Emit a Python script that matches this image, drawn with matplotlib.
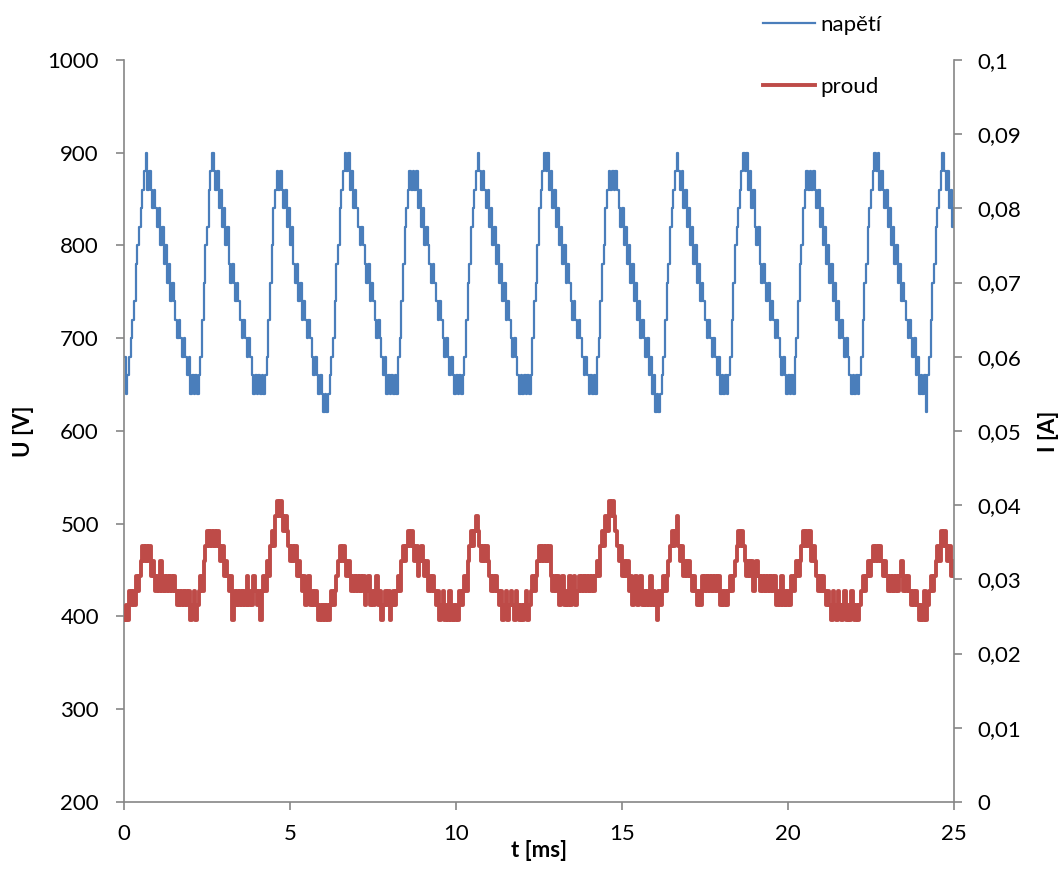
import numpy as np
import matplotlib
matplotlib.use('Agg')
import matplotlib.pyplot as plt
from matplotlib.ticker import FuncFormatter, MultipleLocator

plt.rcParams['font.family'] = ['Lato', 'DejaVu Sans']

# time axis in ms, sampled every 0.05 ms
t_ms = np.round(np.arange(0, 501) * 0.05, 2)

# measured voltage [V], one row per millisecond (20 samples), last value at 25 ms
u_volts = [
    680, 640, 660, 680, 700, 720, 740, 780, 800, 820, 840, 860, 880, 900, 860, 880, 860, 840, 860, 840,
    820, 840, 800, 820, 780, 800, 760, 780, 740, 760, 740, 720, 700, 720, 700, 680, 700, 680, 660, 680,
    640, 660, 640, 660, 640, 660, 680, 720, 760, 800, 820, 860, 880, 900, 880, 860, 880, 840, 860, 820,
    840, 800, 820, 780, 760, 780, 760, 740, 760, 740, 720, 700, 720, 700, 680, 700, 680, 660, 640, 660,
    640, 660, 640, 660, 640, 660, 680, 720, 760, 800, 840, 860, 880, 860, 880, 860, 840, 860, 820, 840,
    800, 820, 780, 760, 780, 740, 760, 720, 740, 720, 700, 720, 700, 680, 660, 680, 660, 640, 660, 640,
    620, 640, 620, 640, 660, 680, 700, 740, 780, 800, 840, 860, 880, 900, 880, 900, 860, 880, 840, 860,
    840, 820, 800, 820, 800, 780, 760, 780, 740, 760, 740, 720, 700, 720, 700, 680, 660, 680, 640, 660,
    640, 660, 640, 660, 640, 680, 700, 740, 780, 820, 840, 860, 880, 860, 880, 860, 880, 840, 860, 820,
    840, 800, 820, 800, 780, 760, 780, 760, 740, 720, 740, 720, 700, 680, 700, 680, 660, 680, 660, 640,
    660, 640, 660, 640, 660, 680, 720, 760, 780, 820, 840, 860, 880, 900, 880, 860, 880, 860, 840, 860,
    820, 840, 800, 820, 780, 800, 760, 780, 740, 760, 720, 740, 720, 700, 680, 700, 680, 660, 640, 660,
    640, 660, 640, 660, 640, 660, 700, 740, 760, 800, 840, 860, 880, 900, 880, 900, 860, 880, 840, 860,
    820, 840, 800, 820, 780, 800, 760, 780, 760, 740, 720, 740, 720, 700, 720, 700, 680, 660, 680, 660,
    640, 660, 640, 660, 640, 680, 700, 740, 780, 800, 840, 860, 880, 860, 880, 860, 880, 860, 840, 820,
    840, 800, 820, 780, 800, 760, 780, 740, 760, 720, 740, 700, 720, 700, 680, 700, 660, 680, 640, 660,
    620, 640, 620, 640, 660, 680, 720, 760, 780, 820, 840, 860, 880, 900, 880, 860, 880, 840, 860, 820,
    840, 800, 820, 780, 800, 760, 780, 740, 760, 740, 720, 700, 720, 700, 680, 700, 680, 660, 680, 640,
    660, 640, 660, 640, 660, 680, 720, 760, 800, 820, 840, 860, 880, 900, 880, 900, 860, 880, 840, 860,
    820, 800, 820, 780, 760, 780, 760, 740, 760, 720, 740, 720, 700, 720, 700, 680, 660, 680, 660, 640,
    660, 640, 660, 640, 680, 700, 740, 780, 800, 840, 860, 880, 860, 880, 860, 880, 860, 840, 860, 820,
    840, 800, 820, 780, 800, 760, 780, 740, 760, 720, 740, 700, 720, 700, 680, 700, 680, 660, 640, 660,
    640, 660, 640, 660, 680, 720, 760, 780, 820, 840, 860, 880, 900, 880, 900, 860, 880, 860, 840, 860,
    820, 840, 800, 820, 780, 800, 760, 780, 740, 760, 740, 720, 700, 720, 700, 680, 700, 660, 680, 640,
    660, 640, 660, 620, 660, 680, 720, 760, 780, 820, 840, 860, 880, 900, 880, 860, 880, 840, 860, 820,
    840,
]

# measured current [mA], same sampling
i_milliamps = [
    24.5, 26.5, 24.5, 28.5, 26.5, 28.5, 26.5, 30.5, 28.5, 30.5, 32.5, 34.5, 32.5, 34.5, 32.5, 34.5, 30.5, 32.5, 30.5, 28.5,
    30.5, 28.5, 32.5, 28.5, 30.5, 28.5, 30.5, 28.5, 30.5, 28.5, 30.5, 28.5, 26.5, 28.5, 26.5, 28.5, 26.5, 28.5, 26.5, 28.5,
    24.5, 26.5, 28.5, 24.5, 26.5, 28.5, 30.5, 28.5, 32.5, 34.5, 36.5, 34.5, 36.5, 34.5, 36.5, 34.5, 36.5, 34.5, 32.5, 34.5,
    30.5, 32.5, 30.5, 28.5, 30.5, 24.5, 28.5, 26.5, 28.5, 26.5, 28.5, 26.5, 28.5, 26.5, 30.5, 26.5, 28.5, 26.5, 30.5, 28.5,
    26.5, 28.5, 24.5, 28.5, 30.5, 28.5, 32.5, 30.5, 34.5, 36.5, 34.5, 38.5, 40.5, 38.5, 40.5, 38.5, 36.5, 38.5, 36.5, 34.5,
    32.5, 34.5, 32.5, 34.5, 30.5, 32.5, 30.5, 28.5, 30.5, 26.5, 28.5, 30.5, 26.5, 28.5, 26.5, 28.5, 26.5, 24.5, 26.5, 24.5,
    26.5, 24.5, 26.5, 24.5, 26.5, 28.5, 26.5, 28.5, 30.5, 32.5, 34.5, 32.5, 34.5, 32.5, 30.5, 32.5, 30.5, 28.5, 30.5, 28.5,
    30.5, 28.5, 30.5, 28.5, 30.5, 26.5, 28.5, 30.5, 26.5, 28.5, 26.5, 28.5, 30.5, 26.5, 28.5, 24.5, 26.5, 28.5, 26.5, 28.5,
    24.5, 26.5, 28.5, 26.5, 28.5, 30.5, 28.5, 32.5, 34.5, 32.5, 34.5, 36.5, 34.5, 36.5, 34.5, 32.5, 34.5, 30.5, 32.5, 34.5,
    32.5, 30.5, 32.5, 28.5, 30.5, 28.5, 30.5, 28.5, 26.5, 28.5, 24.5, 26.5, 28.5, 24.5, 26.5, 24.5, 28.5, 24.5, 26.5, 24.5,
    26.5, 24.5, 28.5, 26.5, 28.5, 30.5, 28.5, 32.5, 34.5, 36.5, 34.5, 36.5, 38.5, 36.5, 34.5, 32.5, 34.5, 32.5, 34.5, 32.5,
    30.5, 28.5, 30.5, 28.5, 30.5, 28.5, 26.5, 28.5, 24.5, 26.5, 28.5, 24.5, 26.5, 28.5, 26.5, 24.5, 28.5, 26.5, 24.5, 26.5,
    24.5, 26.5, 28.5, 24.5, 26.5, 28.5, 30.5, 28.5, 30.5, 32.5, 34.5, 32.5, 34.5, 32.5, 34.5, 32.5, 34.5, 30.5, 28.5, 30.5,
    28.5, 30.5, 26.5, 28.5, 30.5, 26.5, 28.5, 26.5, 30.5, 26.5, 28.5, 30.5, 26.5, 28.5, 30.5, 28.5, 30.5, 28.5, 30.5, 28.5,
    30.5, 28.5, 30.5, 28.5, 30.5, 32.5, 30.5, 34.5, 36.5, 34.5, 38.5, 36.5, 40.5, 38.5, 40.5, 38.5, 36.5, 34.5, 32.5, 34.5,
    30.5, 32.5, 30.5, 32.5, 28.5, 30.5, 26.5, 28.5, 30.5, 26.5, 28.5, 30.5, 26.5, 28.5, 26.5, 28.5, 26.5, 30.5, 26.5, 28.5,
    26.5, 24.5, 28.5, 26.5, 28.5, 30.5, 28.5, 30.5, 32.5, 34.5, 36.5, 34.5, 36.5, 38.5, 34.5, 32.5, 34.5, 30.5, 32.5, 30.5,
    32.5, 30.5, 28.5, 30.5, 28.5, 26.5, 28.5, 26.5, 30.5, 28.5, 30.5, 28.5, 30.5, 28.5, 30.5, 28.5, 30.5, 28.5, 30.5, 26.5,
    28.5, 26.5, 28.5, 26.5, 28.5, 30.5, 28.5, 30.5, 32.5, 34.5, 36.5, 34.5, 36.5, 34.5, 32.5, 30.5, 32.5, 30.5, 32.5, 28.5,
    30.5, 32.5, 30.5, 28.5, 30.5, 28.5, 30.5, 28.5, 30.5, 28.5, 30.5, 28.5, 30.5, 26.5, 28.5, 26.5, 30.5, 26.5, 28.5, 26.5,
    28.5, 26.5, 30.5, 28.5, 30.5, 32.5, 30.5, 32.5, 34.5, 36.5, 34.5, 36.5, 34.5, 36.5, 32.5, 34.5, 32.5, 30.5, 28.5, 30.5,
    28.5, 30.5, 28.5, 26.5, 28.5, 26.5, 24.5, 28.5, 26.5, 24.5, 28.5, 26.5, 24.5, 26.5, 28.5, 24.5, 26.5, 24.5, 28.5, 26.5,
    24.5, 26.5, 24.5, 26.5, 28.5, 30.5, 28.5, 30.5, 32.5, 30.5, 32.5, 34.5, 32.5, 34.5, 32.5, 34.5, 32.5, 30.5, 32.5, 30.5,
    28.5, 30.5, 28.5, 30.5, 28.5, 30.5, 28.5, 30.5, 32.5, 28.5, 30.5, 28.5, 30.5, 28.5, 26.5, 28.5, 26.5, 28.5, 26.5, 24.5,
    26.5, 24.5, 28.5, 24.5, 26.5, 28.5, 30.5, 28.5, 30.5, 32.5, 34.5, 32.5, 36.5, 34.5, 36.5, 34.5, 32.5, 34.5, 30.5, 32.5,
    30.5,
]

i_amps = np.array(i_milliamps) / 1000.0

blue = '#4a7ebb'
red = '#be4b48'
gray = '#868686'
fs = 16

fig = plt.figure(figsize=(10.64, 8.72), dpi=100)
ax = fig.add_axes([0.1165, 0.0803, 0.7801, 0.8509])
ax2 = ax.twinx()

# sampled signals are drawn as held steps
l_u, = ax.plot(t_ms, u_volts, color=blue, lw=1.6, drawstyle='steps-post', label='napětí')
l_i, = ax2.plot(t_ms, i_amps, color=red, lw=2.8, drawstyle='steps-post', label='proud')

ax.set_xlim(0, 25)
ax.set_ylim(200, 1000)
ax2.set_ylim(0, 0.1)
ax.xaxis.set_major_locator(MultipleLocator(5))
ax.yaxis.set_major_locator(MultipleLocator(100))
ax2.yaxis.set_major_locator(MultipleLocator(0.01))
ax2.yaxis.set_major_formatter(FuncFormatter(lambda v, p: f'{round(v, 3):g}'.replace('.', ',')))

for a in (ax, ax2):
    a.spines['top'].set_visible(False)
    for s in ('left', 'right', 'bottom'):
        a.spines[s].set_color(gray)
        a.spines[s].set_linewidth(1.2)
    a.tick_params(colors=gray, labelcolor='black', labelsize=fs, width=1.2, length=6, direction='out')
ax.spines['right'].set_visible(False)
ax2.spines['left'].set_visible(False)
ax2.spines['bottom'].set_visible(False)
ax.tick_params(axis='y', pad=12)
ax.tick_params(axis='x', pad=10)
ax2.tick_params(axis='y', pad=11)

ax.set_xlabel('t [ms]', fontsize=fs, fontweight='bold', labelpad=-3)
ax.set_ylabel('U [V]', fontsize=fs, fontweight='bold', labelpad=10)
ax2.set_ylabel('I [A]', fontsize=fs, fontweight='bold', rotation=90, labelpad=12)

fig.legend(handles=[l_u, l_i], loc='upper left', bbox_to_anchor=(0.706, 0.997),
           frameon=False, fontsize=fs, handlelength=2.3, handletextpad=0.25,
           labelspacing=1.9, borderaxespad=0.15)

fig.savefig('out.png', dpi=100)
